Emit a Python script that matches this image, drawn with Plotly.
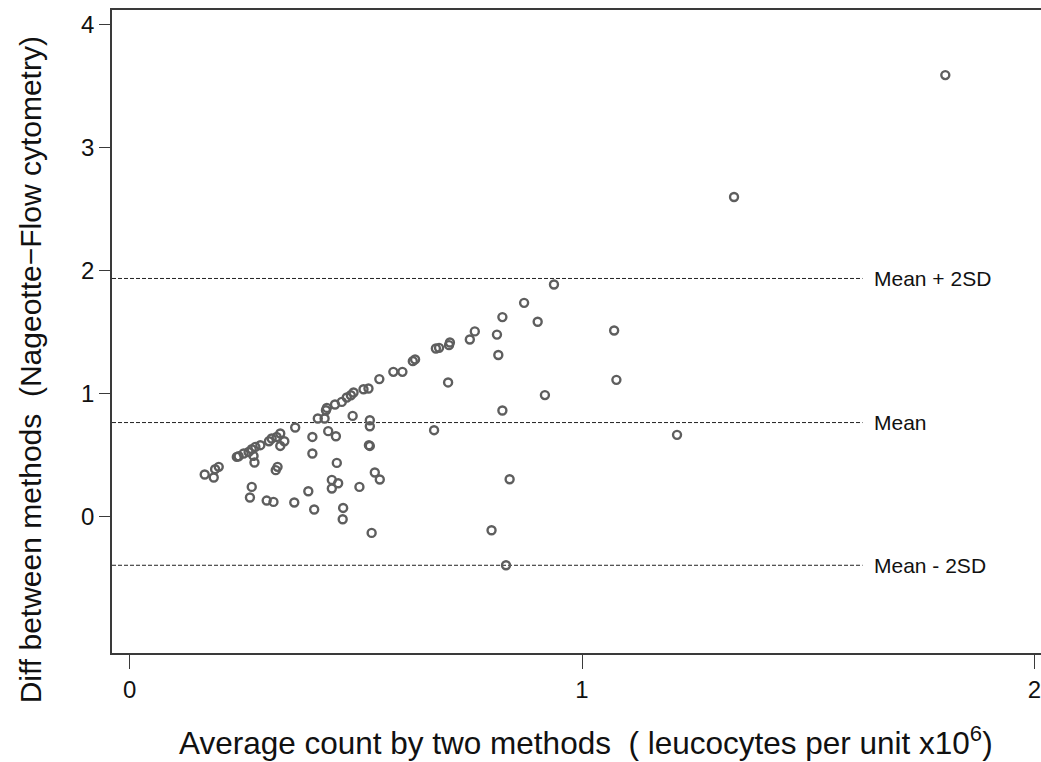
import plotly.graph_objects as go

# ---- data ----
avg_count = [0.166, 0.186, 0.189, 0.197, 0.237, 0.241, 0.252, 0.263, 0.270, 0.278,
             0.274, 0.276, 0.289, 0.308, 0.314, 0.325, 0.333, 0.342, 0.333, 0.327,
             0.323, 0.270, 0.266, 0.303, 0.318, 0.364, 0.366, 0.395, 0.408, 0.404,
             0.404, 0.416, 0.431, 0.434, 0.436, 0.439, 0.447, 0.447, 0.454, 0.456,
             0.458, 0.461, 0.469, 0.471, 0.472, 0.480, 0.489, 0.493, 0.495, 0.508,
             0.517, 0.528, 0.529, 0.531, 0.531, 0.531, 0.535, 0.542, 0.553, 0.552,
             0.583, 0.603, 0.626, 0.631, 0.673, 0.677, 0.684, 0.704, 0.706, 0.708,
             0.752, 0.763, 0.800, 0.812, 0.815, 0.824, 0.824, 0.832, 0.840, 0.872,
             0.902, 0.918, 0.938, 1.071, 1.076, 1.210, 1.336, 1.803]
diff_methods = [0.345, 0.320, 0.388, 0.407, 0.488, 0.493, 0.515, 0.528, 0.550, 0.569,
                0.496, 0.442, 0.583, 0.615, 0.637, 0.650, 0.678, 0.615, 0.577, 0.407,
                0.380, 0.244, 0.158, 0.133, 0.122, 0.117, 0.727, 0.209, 0.060, 0.650,
                0.515, 0.800, 0.800, 0.867, 0.886, 0.697, 0.301, 0.231, 0.914, 0.656,
                0.439, 0.274, 0.935, -0.019, 0.073, 0.971, 0.989, 0.821, 1.011, 0.244,
                1.038, 1.044, 0.583, 0.577, 0.786, 0.737, -0.130, 0.361, 0.304, 1.120,
                1.179, 1.179, 1.266, 1.280, 0.705, 1.369, 1.374, 1.093, 1.396, 1.418,
                1.442, 1.508, -0.108, 1.482, 1.316, 1.624, 0.865, -0.393, 0.306, 1.740,
                1.586, 0.990, 1.889, 1.515, 1.114, 0.667, 2.600, 3.591]

ref_labels = ["Mean + 2SD", "Mean", "Mean - 2SD"]
ref_values = [1.938, 0.767, -0.393]

x_ticks = [0, 1, 2]
y_ticks = [0, 1, 2, 3, 4]

x_title = "Average count by two methods  ( leucocytes per unit x10<sup>6</sup>)"
y_title = "Diff between methods  (Nageotte\u2212Flow cytometry)"

# ---- styling constants ----
FONT = "Liberation Sans, Arial, sans-serif"
AXIS_COLOR = "#3a3a3a"
MARKER_COLOR = "#5e5e5e"
X_RANGE = [-0.0389, 2.0145]
Y_RANGE = [-1.106, 4.12]
LINE_END_X = 1.62
LABEL_X = 1.642

fig = go.Figure()
fig.add_trace(go.Scatter(
    x=avg_count, y=diff_methods, mode="markers",
    marker=dict(symbol="circle-open", size=8, color=MARKER_COLOR,
                line=dict(width=2.4, color=MARKER_COLOR)),
    hoverinfo="x+y", showlegend=False,
))

for lab, val in zip(ref_labels, ref_values):
    fig.add_shape(type="line", xref="x", yref="y", x0=X_RANGE[0], x1=LINE_END_X,
                  y0=val, y1=val, line=dict(color="#222222", width=1, dash="4px,2px"),
                  layer="below")
    fig.add_annotation(x=LABEL_X, y=val, xref="x", yref="y", text=lab,
                       showarrow=False, xanchor="left", yanchor="middle",
                       font=dict(family=FONT, size=21, color="#111111"))

fig.add_annotation(x=0.51, y=-0.137, xref="paper", yref="paper", text=x_title,
                   showarrow=False, xanchor="center", yanchor="middle",
                   font=dict(family=FONT, size=31.5, color="#111111"))
fig.add_annotation(x=-0.088, y=0.44, xref="paper", yref="paper", text=y_title,
                   showarrow=False, xanchor="center", yanchor="middle", textangle=-90,
                   font=dict(family=FONT, size=30, color="#111111"))

fig.update_layout(
    width=1041, height=762,
    margin=dict(l=112, r=0, t=10, b=109, pad=0),
    paper_bgcolor="white", plot_bgcolor="white",
    font=dict(family=FONT, color="#111111"),
    xaxis=dict(range=X_RANGE, tickvals=x_ticks, ticktext=[str(v) for v in x_ticks],
               showgrid=False, zeroline=False, showline=True, mirror=True,
               linecolor=AXIS_COLOR, linewidth=1.5, automargin=False,
               ticks="outside", ticklen=14, tickwidth=1.2, tickcolor=AXIS_COLOR,
               ticklabeloverflow="allow",
               tickfont=dict(family=FONT, size=24, color="#111111")),
    yaxis=dict(range=Y_RANGE, tickvals=y_ticks, ticktext=[str(v) for v in y_ticks],
               showgrid=False, zeroline=False, showline=True, mirror=True,
               linecolor=AXIS_COLOR, linewidth=1.5, automargin=False,
               ticks="outside", ticklen=11, tickwidth=1.2, tickcolor=AXIS_COLOR,
               tickfont=dict(family=FONT, size=24, color="#111111")),
)

fig.write_html(
    "out.html",
    config={"displayModeBar": False},
    post_script="document.body.style.margin='0';document.body.style.overflow='hidden';",
)
